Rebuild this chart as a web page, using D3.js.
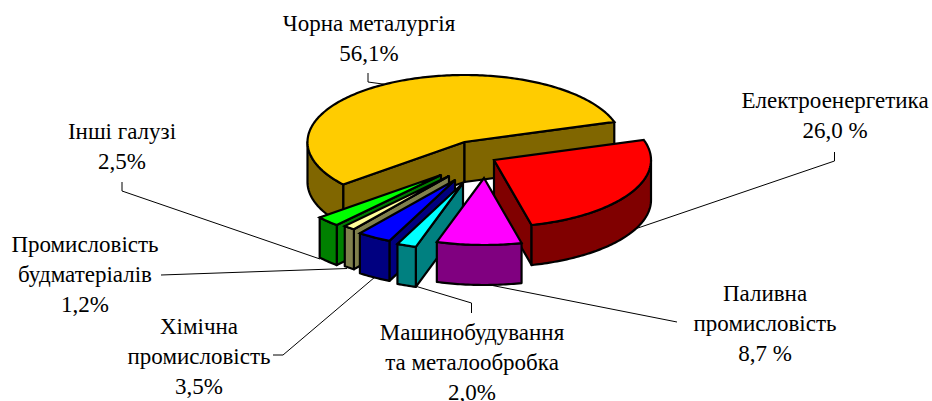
<!DOCTYPE html>
<html>
<head>
<meta charset="utf-8">
<script src="https://cdn.jsdelivr.net/npm/d3@7"></script>
<style>
  html, body { margin: 0; padding: 0; background: #fff; overflow: hidden; }
  text { font-family: "Liberation Serif", serif; font-size: 23px; fill: #000; }
</style>
</head>
<body>
<div id="chart"></div>
<script>
  var w = 932,
      h = 401;

  // chart data
  var names = [
    ["Чорна металургія"],
    ["Електроенергетика"],
    ["Паливна", "промисловість"],
    ["Машинобудування", "та металообробка"],
    ["Хімічна", "промисловість"],
    ["Промисловість", "будматеріалів"],
    ["Інші галузі"]
  ];
  var values = [56.1, 26.0, 8.7, 2.0, 3.5, 1.2, 2.5];
  var valueLabels = ["56,1%", "26,0 %", "8,7 %", "2,0%", "3,5%", "1,2%", "2,5%"];

  var topColors = ["#FFCC00", "#FF0000", "#FF00FF", "#00FFFF", "#0000FF", "#FFFF99", "#00FF00"];
  var sideColors = ["#806600", "#800000", "#800080", "#008080", "#000080", "#80804D", "#008000"];

  // layout, pulled-out slices were dragged by hand so each has its own apex
  var apexes = [[464.5, 142], [494, 160], [484, 178], [463, 183], [455, 180], [449, 176], [441, 175]];
  var labelPos = [[369, 31], [835, 108], [765, 301], [472, 340], [199, 334], [85, 252], [122, 139]];
  var leaders = [
    [[368, 73], [368, 82], [390, 85]],
    [[834.5, 152], [834.5, 161], [632, 230]],
    [[677, 322], [490, 285]],
    [[471.5, 313], [471.5, 303], [415, 286]],
    [[273, 355], [283, 355], [375, 277]],
    [[161, 275], [347, 268.5]],
    [[122, 182], [122, 191], [320, 259]]
  ];
  var drawOrder = [0, 1, 6, 5, 4, 3, 2];
  var depth = 40,
      lineStep = 30;

  var rx = d3.scaleLinear().domain([-1, 1]).range([-157, 157]);
  var ry = d3.scaleLinear().domain([-1, 1]).range([-67, 67]);

  var svg = d3.select("#chart").append("svg")
      .attr("width", w)
      .attr("height", h)
      .style("display", "block");

  var line = d3.line();

  var pie = d3.pie()
      .sort(null)
      .startAngle(230.6 * Math.PI / 180)
      .endAngle((230.6 + 360) * Math.PI / 180);

  // pie angle is from 12 o'clock, t is from 3 o'clock, both clockwise
  var slices = pie(values).map(function(d, i) {
    return {
      i: i,
      t0: d.startAngle * 180 / Math.PI - 90,
      t1: d.endAngle * 180 / Math.PI - 90,
      apex: apexes[i]
    };
  });

  function rimPoint(s, t, drop) {
    var a = t * Math.PI / 180;
    return [s.apex[0] + rx(Math.cos(a)), s.apex[1] + ry(Math.sin(a)) + (drop || 0)];
  }

  function rimPoints(s, t0, t1, drop) {
    var n = Math.max(2, Math.ceil(Math.abs(t1 - t0)));
    return d3.range(n + 1).map(function(k) {
      return rimPoint(s, t0 + (t1 - t0) * k / n, drop);
    });
  }

  function radialWall(s, t) {
    return [
      s.apex,
      rimPoint(s, t),
      rimPoint(s, t, depth),
      [s.apex[0], s.apex[1] + depth]
    ];
  }

  // a wall shows when its outward normal points down the screen
  function faces(t) {
    return Math.sin(t * Math.PI / 180) > 0;
  }

  function wallsOf(s) {
    var walls = [];
    if (faces(s.t0 - 90)) walls.push(radialWall(s, s.t0));
    if (faces(s.t1 + 90)) walls.push(radialWall(s, s.t1));
    [0, 360].forEach(function(k) {
      var lo = Math.max(s.t0, k),
          hi = Math.min(s.t1, k + 180);
      if (lo < hi) {
        walls.push(rimPoints(s, lo, hi).concat(rimPoints(s, hi, lo, depth)));
      }
    });
    return walls;
  }

  // leader lines sit under the pie
  svg.selectAll("path.leader").data(leaders)
    .enter().append("path")
    .attr("class", "leader")
    .attr("d", line)
    .attr("fill", "none")
    .attr("stroke", "#000")
    .attr("stroke-width", 1);

  var sliceG = svg.selectAll("g.slice")
      .data(drawOrder.map(function(i) { return slices[i]; }))
    .enter().append("g")
      .attr("class", "slice");

  sliceG.selectAll("path.wall")
      .data(function(s) {
        return wallsOf(s).map(function(p) { return {points: p, i: s.i}; });
      })
    .enter().append("path")
      .attr("class", "wall")
      .attr("d", function(d) { return line(d.points) + "Z"; })
      .attr("fill", function(d) { return sideColors[d.i]; })
      .attr("stroke", "#000")
      .attr("stroke-width", 2.2)
      .attr("stroke-linejoin", "round");

  sliceG.append("path")
      .attr("class", "top")
      .attr("d", function(s) {
        return line([s.apex].concat(rimPoints(s, s.t0, s.t1))) + "Z";
      })
      .attr("fill", function(s) { return topColors[s.i]; })
      .attr("stroke", "#000")
      .attr("stroke-width", 2.2)
      .attr("stroke-linejoin", "miter")
      .attr("stroke-miterlimit", 3);

  var labels = svg.selectAll("text.label").data(names)
    .enter().append("text")
      .attr("class", "label")
      .attr("text-anchor", "middle")
      .attr("x", function(d, i) { return labelPos[i][0]; })
      .attr("y", function(d, i) { return labelPos[i][1]; });

  labels.selectAll("tspan")
      .data(function(d, i) { return d.concat(valueLabels[i]); })
    .enter().append("tspan")
      .attr("x", function() { return d3.select(this.parentNode).attr("x"); })
      .attr("dy", function(d, i) { return i ? lineStep : 0; })
      .text(function(d) { return d; });
</script>
</body>
</html>
